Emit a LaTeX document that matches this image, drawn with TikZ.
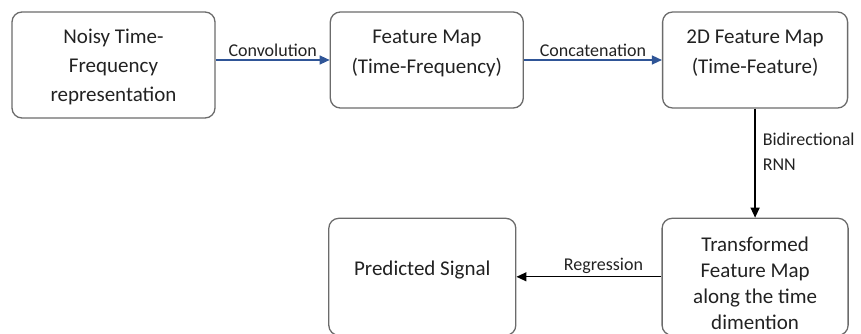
\documentclass[tikz,border=0pt]{standalone}
\usepackage{fontspec}
\setmainfont{Carlito}
\usetikzlibrary{positioning, arrows.meta}

\definecolor{boxgray}{HTML}{6B6B6B}
\definecolor{flowblue}{HTML}{2F5597}
\definecolor{inkgray}{HTML}{222222}

\tikzset{
	box/.style={draw=boxgray, line width=1.3pt, rounded corners=10pt, inner sep=0pt},
	boxtext/.style={align=center, text=inkgray, font=\fontsize{21}{26}\selectfont},
	edgetext/.style={text=inkgray, font=\fontsize{18}{25}\selectfont, inner sep=3pt},
	bluearrow/.style={draw=flowblue, line width=1.3pt, -{Triangle[length=10pt, width=9pt]}},
	blackarrow/.style={draw=black, line width=1.3pt, -{Triangle[length=10pt, width=9pt]}}
}

\begin{document}
\begin{tikzpicture}[x=1pt, y=-1pt]
		\useasboundingbox (0,0) rectangle (861,334);
		% Define boxes
		\node[box, minimum width=203pt, minimum height=106pt,
			label={[boxtext, font=\fontsize{21}{29}\selectfont, yshift=-2pt]center:{Noisy Time-\\Frequency\\representation}}] (noisy) at (113.5,65) {};
		\node[box, minimum width=193pt, minimum height=96pt, right=114pt of noisy.north east, anchor=north west,
			label={[boxtext, font=\fontsize{21}{30}\selectfont, yshift=7pt]center:{Feature Map\\(Time-Frequency)}}] (fmap) {};
		\node[box, minimum width=185pt, minimum height=96pt, right=138pt of fmap,
			label={[boxtext, font=\fontsize{21}{30}\selectfont, yshift=7pt]center:{2D Feature Map\\(Time-Feature)}}] (fmap2d) {};
		\node[box, minimum width=186pt, minimum height=117pt, below=109pt of fmap2d,
			label={[boxtext, yshift=-6pt]center:{Transformed\\Feature Map\\along the time\\dimention}}] (trans) {};
		\node[box, minimum width=187pt, minimum height=117pt, left=145pt of trans,
			label={[boxtext, yshift=7pt]center:{Predicted Signal}}] (pred) {};
		
		% Draw arrows
		\draw[bluearrow] (noisy.east |- fmap.west) -- node[above, edgetext] {Convolution} (fmap.west);
		\draw[bluearrow] (fmap) -- node[above, edgetext] {Concatenation} (fmap2d);
		\draw[blackarrow] (fmap2d) -- node[right, edgetext, align=left, pos=0.4, xshift=4pt] {Bidirectional\\RNN} (trans);
		\draw[blackarrow] (trans) -- node[above, edgetext, pos=0.4] {Regression} (pred);
\end{tikzpicture}
\end{document}
